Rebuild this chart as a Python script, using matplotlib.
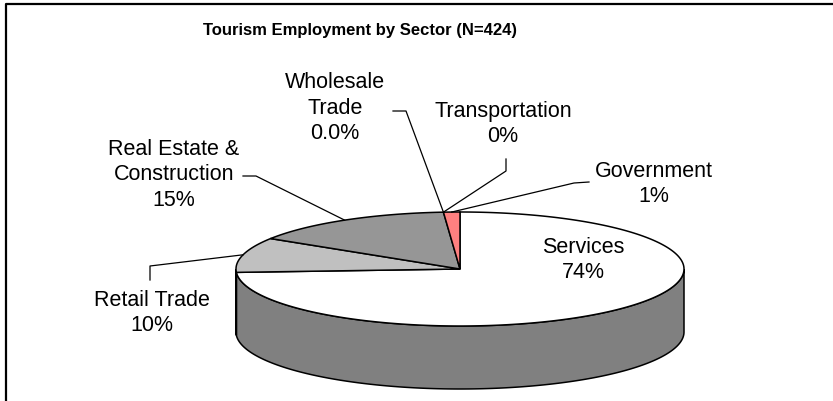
import numpy as np
import matplotlib

matplotlib.use("Agg")
import matplotlib.pyplot as plt  # noqa: E402
from matplotlib.patches import Polygon  # noqa: E402

plt.rcParams["font.family"] = ["Liberation Sans", "DejaVu Sans"]

title = "Tourism Employment by Sector (N=424)"
sectors = ["Services", "Retail Trade", "Real Estate &\nConstruction", "Wholesale\nTrade", "Transportation", "Government"]
counts = [314, 42, 63, 0, 0, 5]
pct_labels = ["74%", "10%", "15%", "0.0%", "0%", "1%"]
top_colors = ["#FFFFFF", "#C0C0C0", "#969696", "#808080", "#808080", "#FF8080"]
side_colors = ["#808080", "#606060", "#4B4B4B", "#404040", "#404040", "#804040"]

# layout (pixels, y down)
W, H = 833, 402
cx, cy, rx, ry, depth = 460.0, 270.0, 224.0, 57.0, 63.0
label_pos = [(583, 260), (152, 313), (174, 175), (335, 108), (503, 124), (654, 184)]
# leader: (label end, elbow) or None
leaders = [None,
           ((150, 281), (150, 267)),
           ((243, 177), (256, 177)),
           ((393, 112), (406, 112)),
           ((506, 160), (506, 172)),
           ((589, 183), (574, 184))]


def ell(theta_deg, dy=0.0):
    t = np.radians(theta_deg)
    return np.column_stack([cx + rx * np.cos(t), cy - ry * np.sin(t) + dy])


fig = plt.figure(figsize=(W / 100, H / 100), dpi=100)
ax = fig.add_axes([0, 0, 1, 1])
ax.set_xlim(0, W)
ax.set_ylim(H, 0)
ax.axis("off")

# chart frame (only top and left edges inside the picture)
ax.plot([6, 6, W + 5], [H + 5, 5, 5], color="black", linewidth=1.6, solid_capstyle="butt")

total = float(sum(counts))
bounds = np.concatenate([[0.0], np.cumsum(counts)]) / total
theta = 90.0 - 360.0 * bounds  # clockwise from 12 o'clock

# side walls (front half only: theta in (-180, 0))
for i in range(len(counts)):
    a, b = theta[i + 1], theta[i]
    lo, hi = max(a, -180.0), min(b, 0.0)
    if hi - lo <= 0:
        continue
    th = np.linspace(lo, hi, 200)
    top = ell(th)
    bot = ell(th[::-1], depth)
    ax.add_patch(Polygon(np.vstack([top, bot]), closed=True, facecolor=side_colors[i],
                         edgecolor="black", linewidth=1.1, zorder=1))

# top faces
for i in range(len(counts)):
    if counts[i] == 0:
        continue
    th = np.linspace(theta[i], theta[i + 1], 300)
    pts = np.vstack([[cx, cy], ell(th)])
    ax.add_patch(Polygon(pts, closed=True, facecolor=top_colors[i],
                         edgecolor="black", linewidth=1.1, zorder=2, joinstyle="miter"))

# labels and leader lines
for i, name in enumerate(sectors):
    x, y = label_pos[i]
    ax.text(x, y, f"{name}\n{pct_labels[i]}", ha="center", va="center", fontsize=15.5,
            linespacing=1.26, zorder=4)
    if leaders[i] is None:
        continue
    mid = 0.5 * (theta[i] + theta[i + 1])
    anchor = ell(mid)[0]
    (x0, y0), (x1, y1) = leaders[i]
    ax.plot([x0, x1, anchor[0]], [y0, y1, anchor[1]], color="black", linewidth=0.9, zorder=3)

ax.text(360, 30, title, ha="center", va="center", fontsize=12.0, fontweight="bold")

fig.savefig("out.png", dpi=100)
